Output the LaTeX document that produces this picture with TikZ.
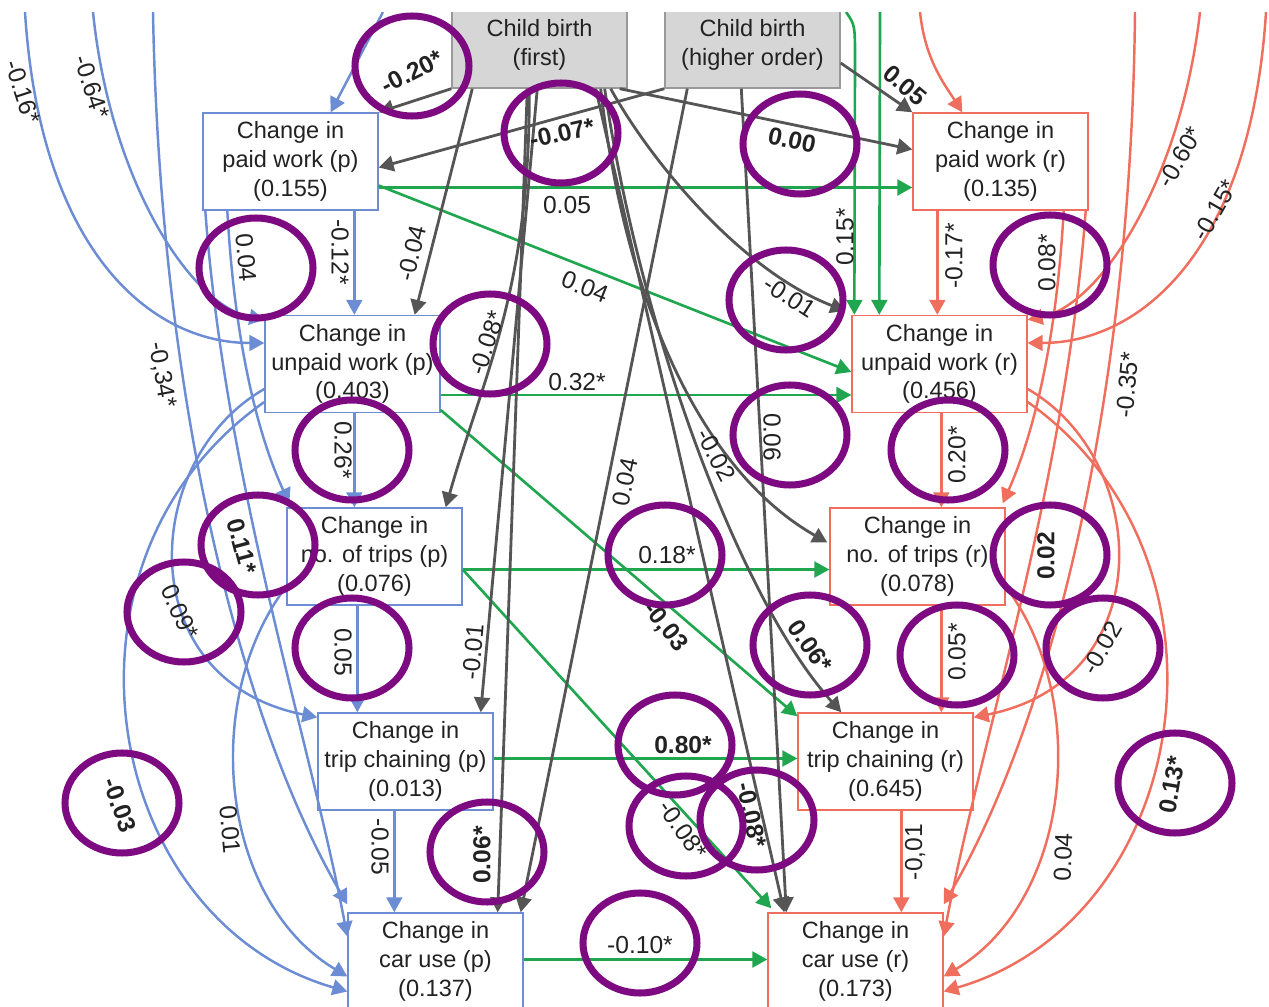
\documentclass[tikz,border=0pt]{standalone}
\usepackage{fontspec}
\setmainfont{Liberation Sans}
\usetikzlibrary{arrows.meta,calc}
\definecolor{pblue}{HTML}{6C8CD4}
\definecolor{rred}{HTML}{EF6E5E}
\definecolor{lgreen}{HTML}{1FA64F}
\definecolor{dgray}{HTML}{555555}
\definecolor{boxgray}{HTML}{D6D6D6}
\definecolor{boxedge}{HTML}{999999}
\definecolor{ring}{HTML}{7E0A82}
\definecolor{ink}{HTML}{222222}
\begin{document}
\begin{tikzpicture}[x=0.02cm,y=-0.02cm,
  tip/.style={-{Triangle[length=8.5pt,width=9pt]}},
  gy/.style={draw=dgray,line width=1.6pt,tip},
  gr/.style={draw=lgreen,line width=1.5pt,tip},
  bl/.style={draw=pblue,line width=1.4pt,tip},
  rd/.style={draw=rred,line width=1.4pt,tip},
  varbox/.style={draw,fill=white,line width=0.8pt,align=center,inner sep=0pt,
    minimum width=3.5cm,minimum height=1.94cm,text=ink,
    font=\fontsize{13.4}{16.4}\selectfont},
  pbox/.style={varbox,draw=pblue},
  rbox/.style={varbox,draw=rred},
  cbbox/.style={varbox,draw=boxedge,fill=boxgray,minimum height=1.72cm},
  lab/.style={inner sep=0pt,text=ink,font=\fontsize{14}{16}\selectfont},
  blab/.style={lab,font=\fontsize{14}{16}\selectfont\bfseries},
  circ/.style={draw=ring,line width=4pt}
]
\useasboundingbox (0,0) rectangle (1269,1007);

% ---------- variables ----------
\node[cbbox] (cbf) at (539.5,45) {Child birth\\(first)};
\node[cbbox] (cbh) at (752.5,45) {Child birth\\(higher order)};

\node[pbox] (pwp) at (290.5,161.5) {Change in\\paid work (p)\\(0.155)};
\node[pbox] (uwp) at (352.5,364) {Change in\\unpaid work (p)\\(0.403)};
\node[pbox] (ntp) at (374.5,556.5) {Change in\\no. of trips (p)\\(0.076)};
\node[pbox] (tcp) at (405.5,761.5) {Change in\\trip chaining (p)\\(0.013)};
\node[pbox] (cup) at (435.5,961.5) {Change in\\car use (p)\\(0.137)};

\node[rbox] (pwr) at (1000.5,161.5) {Change in\\paid work (r)\\(0.135)};
\node[rbox] (uwr) at (939.5,364) {Change in\\unpaid work (r)\\(0.456)};
\node[rbox] (ntr) at (917.5,556.5) {Change in\\no. of trips (r)\\(0.078)};
\node[rbox] (tcr) at (885.5,761.5) {Change in\\trip chaining (r)\\(0.645)};
\node[rbox] (cur) at (855.5,961.5) {Change in\\car use (r)\\(0.173)};

% loose ends of paths entering from above
\coordinate (bt1) at (25,12);
\coordinate (bt2) at (93,12);
\coordinate (bt3) at (153,12);
\coordinate (bt4) at (383,12);
\coordinate (rt1) at (1266,12);
\coordinate (rt2) at (1200,12);
\coordinate (rt3) at (1135,12);
\coordinate (rt4) at (920,12);
\coordinate (gt1) at (846,12);
\coordinate (gt2) at (880,12);

% ---------- partner (p) paths ----------
\draw[bl] (bt4) -- ($(pwp.north east)+(-48,0)$);
\draw[bl] (bt1) .. controls (40,250) and (150,343) .. ($(uwp.west)+(0,-21)$);
\draw[bl] (bt2) .. controls (110,180) and (190,305) .. ($(uwp.north west)+(0,5)$);
\draw[bl] (bt3) .. controls (160,400) and (240,720) .. ($(cup.north west)+(0,-8)$);
\draw[bl] ($(pwp.south west)+(152,0)$) -- ($(uwp.north west)+(90,0)$);
\draw[bl] ($(pwp.south west)+(25,0)$) .. controls (235,350) and (260,440) .. ($(ntp.north west)+(3,-4)$);
\draw[bl] ($(pwp.south west)+(3,0)$) .. controls (225,480) and (310,740) .. ($(cup.west)+(0,-25)$);
\draw[bl] ($(uwp.south west)+(90,0)$) -- ($(ntp.north west)+(68,0)$);
\draw[bl] ($(uwp.west)+(0,25)$) .. controls (140,460) and (130,680) .. ($(tcp.north west)+(0,5)$);
\draw[bl] ($(uwp.west)+(0,38)$) .. controls (40,560) and (100,920) .. ($(cup.west)+(0,30)$);
\draw[bl] ($(ntp.west)+(0,30)$) .. controls (200,700) and (220,900) .. ($(cup.west)+(0,15)$);
\draw[bl] ($(ntp.south west)+(71,0)$) -- ($(tcp.north west)+(40,0)$);
\draw[bl] ($(tcp.south west)+(77,0)$) -- ($(cup.north west)+(47,0)$);

% ---------- respondent (r) paths ----------
\draw[rd] (rt4) .. controls (925,60) and (945,85) .. ($(pwr.north west)+(50,0)$);
\draw[rd] (rt1) .. controls (1251,250) and (1141,343) .. ($(uwr.east)+(0,-21)$);
\draw[rd] (rt2) .. controls (1181,180) and (1101,305) .. ($(uwr.north east)+(0,5)$);
\draw[rd] (rt3) .. controls (1131,400) and (1051,720) .. ($(cur.north east)+(0,-8)$);
\draw[rd] ($(pwr.south west)+(25,0)$) -- ($(uwr.north west)+(86,0)$);
\draw[rd] ($(pwr.south east)+(-25,0)$) .. controls (1056,350) and (1031,440) .. ($(ntr.north east)+(-3,-4)$);
\draw[rd] ($(pwr.south east)+(-3,0)$) .. controls (1066,480) and (981,740) .. ($(cur.east)+(0,-25)$);
\draw[rd] ($(uwr.south west)+(90,0)$) -- ($(ntr.north west)+(112,0)$);
\draw[rd] ($(uwr.east)+(0,25)$) .. controls (1151,460) and (1161,680) .. ($(tcr.north east)+(0,5)$);
\draw[rd] ($(uwr.east)+(0,38)$) .. controls (1251,560) and (1191,920) .. ($(cur.east)+(0,30)$);
\draw[rd] ($(ntr.east)+(0,30)$) .. controls (1091,700) and (1071,900) .. ($(cur.east)+(0,15)$);
\draw[rd] ($(ntr.south west)+(112,0)$) -- ($(tcr.north west)+(144,0)$);
\draw[rd] ($(tcr.south west)+(104,0)$) -- ($(cur.north west)+(134,0)$);

% ---------- cross-partner paths ----------
\draw[gr] ($(pwp.east)+(0,26)$) -- ($(pwr.west)+(0,26)$);
\draw[gr] ($(pwp.east)+(0,24)$) -- ($(uwr.west)+(0,8)$);
\draw[gr] ($(uwp.east)+(0,31)$) -- ($(uwr.west)+(0,31)$);
\draw[gr] ($(uwp.east)+(0,46)$) -- ($(tcr.north west)+(0,4)$);
\draw[gr] ($(ntp.east)+(0,13)$) -- ($(ntr.west)+(0,13)$);
\draw[gr] ($(ntp.east)+(0,13)$) -- ($(cur.north west)+(4,-4)$);
\draw[gr] ($(tcp.east)+(0,-3)$) -- ($(tcr.west)+(0,-3)$);
\draw[gr] ($(cup.east)+(0,-2)$) -- ($(cur.west)+(0,-2)$);
\draw[gr] (gt1) .. controls (855,25) .. (855,60) -- ($(uwr.north west)+(3,0)$);
\draw[gr] (gt2) -- ($(uwr.north west)+(28,0)$);

% ---------- child birth paths ----------
\draw[gy] (cbf.south west) -- (pwp.north east);
\draw[gy] (cbh.south west) -- ($(pwp.east)+(0,6)$);
\draw[gy] ($(cbf.south east)+(-8,0)$) -- ($(pwr.west)+(0,-12)$);
\draw[gy] ($(cbh.east)+(0,18)$) -- (pwr.north west);
\draw[gy] ($(cbf.south west)+(21,0)$) -- ($(uwp.north east)+(-26,0)$);
\draw[gy] ($(cbf.south west)+(78,0)$) .. controls (530,290) and (485,370) .. ($(ntp.north east)+(-17,0)$);
\draw[gy] ($(cbf.south west)+(86,0)$) -- ($(tcp.north east)+(-13,0)$);
\draw[gy] ($(cbf.south west)+(76,0)$) -- ($(cup.north east)+(-26,0)$);
\draw[gy] ($(cbh.south west)+(23,0)$) -- ($(cup.north east)+(-3,0)$);
\draw[gy] ($(cbf.south east)+(-17,0)$) .. controls (650,160) and (740,270) .. ($(uwr.north west)+(-6,-4)$);
\draw[gy] ($(cbf.south east)+(-27,0)$) .. controls (625,300) and (700,470) .. ($(ntr.west)+(-2,-14)$);
\draw[gy] ($(cbf.south east)+(-23,0)$) .. controls (640,330) and (740,600) .. ($(tcr.north west)+(44,0)$);
\draw[gy] ($(cbf.south east)+(-32,0)$) -- ($(cur.north west)+(17,0)$);
\draw[gy] ($(cbh.south west)+(77,0)$) -- ($(cur.north west)+(19,0)$);

% ---------- coefficients ----------
\node[lab,rotate=-72] (l01) at (23,92) {-0.16*};
\node[lab,rotate=-72] (l02) at (92,87) {-0.64*};
\node[blab,rotate=27] (l03) at (412,72) {-0.20*};
\node[blab,rotate=13] (l04) at (562,133) {-0.07*};
\node[blab,rotate=-12] (l05) at (792,140) {0.00};
\node[blab,rotate=-40] (l06) at (905,85) {0.05};
\node[lab,rotate=60] (l07) at (1180,157) {-0.60*};
\node[lab,rotate=60] (l08) at (1215,210) {-0.15*};
\node[lab,rotate=-85] (l09) at (246,258) {0.04};
\node[lab,rotate=-90] (l10) at (340,252) {-0.12*};
\node[lab,rotate=76] (l11) at (412,253) {-0.04};
\node[lab] (l12) at (567,205) {0.05};
\node[lab,rotate=-22] (l13) at (585,287) {0.04};
\node[lab,rotate=90] (l14) at (845,237) {0.15*};
\node[lab,rotate=-33] (l15) at (790,297) {-0.01};
\node[lab,rotate=90] (l16) at (954,256) {-0.17*};
\node[lab,rotate=90] (l17) at (1047,263) {0.08*};
\node[lab,rotate=-80] (l18) at (162,375) {-0,34*};
\node[lab,rotate=72] (l19) at (487,343) {-0.08*};
\node[lab] (l20) at (577,382) {0.32*};
\node[lab,rotate=85] (l21) at (1127,385) {-0.35*};
\node[lab,rotate=-90] (l22) at (343,450) {0.26*};
\node[lab,rotate=78] (l23) at (625,482) {0.04};
\node[lab,rotate=-62] (l24) at (716,455) {-0.02};
\node[lab,rotate=-90] (l25) at (772,437) {0.06};
\node[lab,rotate=90] (l26) at (957,455) {0.20*};
\node[blab,rotate=-75] (l27) at (242,546) {0.11*};
\node[lab,rotate=-65] (l28) at (180,612) {0.09*};
\node[lab] (l29) at (667,555) {0.18*};
\node[blab,rotate=-52] (l30) at (665,627) {-0,03};
\node[blab,rotate=90] (l31) at (1046,556) {0.02};
\node[lab,rotate=-90] (l32) at (343,652) {0.05};
\node[blab,rotate=-55] (l33) at (810,646) {0.06*};
\node[lab,rotate=90] (l34) at (957,652) {0.05*};
\node[lab,rotate=60] (l35) at (1102,648) {-0.02};
\node[lab,rotate=85] (l36) at (473,652) {-0.01};
\node[blab] (l37) at (683,745) {0.80*};
\node[blab,rotate=-70] (l38) at (120,805) {-0.03};
\node[lab,rotate=-55] (l39) at (683,830) {-0.08*};
\node[blab,rotate=-78] (l40) at (752,815) {-0.08*};
\node[blab,rotate=80] (l41) at (1172,785) {0.13*};
\node[lab,rotate=-85] (l42) at (230,830) {0.01};
\node[lab,rotate=-90] (l43) at (380,847) {-0.05};
\node[blab,rotate=90] (l44) at (482,855) {0.06*};
\node[lab,rotate=90] (l45) at (915,852) {-0,01};
\node[lab,rotate=88] (l46) at (1063,857) {0.04};
\node[lab] (l47) at (640,945) {-0.10*};

% ---------- highlight rings ----------
\foreach \cx/\cy [count=\i] in {
  412/66, 561/133, 800/144, 256/268, 786/300, 1050/265,
  490/344, 352/450, 790/435, 948/450, 258/545, 665/555,
  1050/555, 184/612, 352/648, 810/645, 957/655, 1103/648,
  675/745, 1175/783, 122/803, 686/826, 757/820, 487/852, 640/943}
  \draw[circ] (\cx,\cy) ellipse [x radius=57, y radius=50];

% blank strip along the upper edge
\fill[white] (0,0) rectangle (1269,12);
\end{tikzpicture}
\end{document}
